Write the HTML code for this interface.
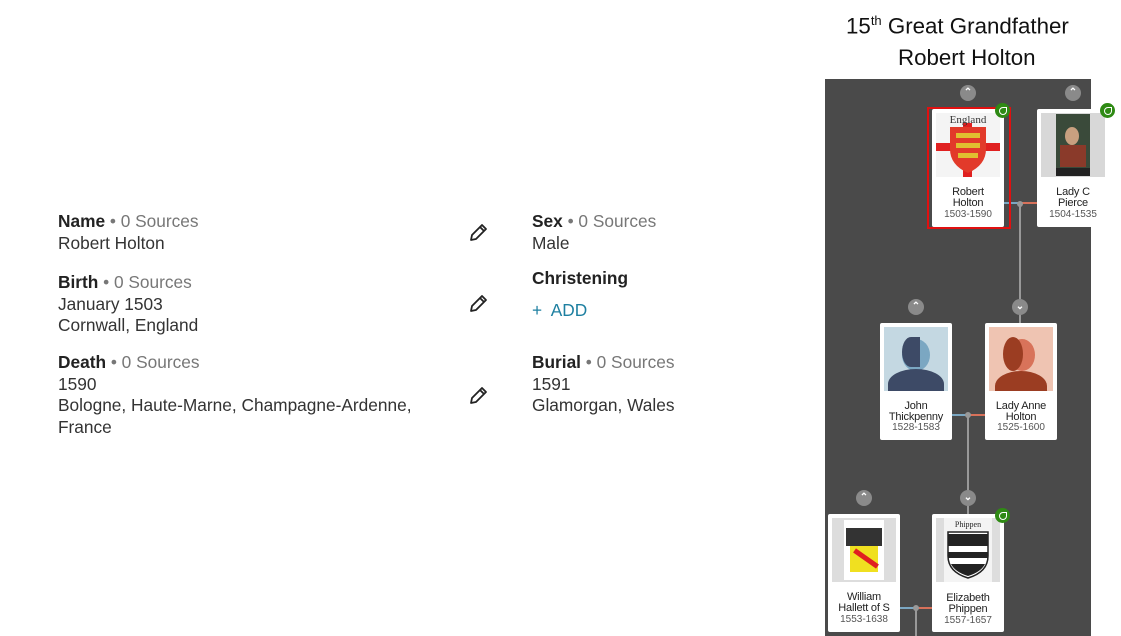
<!DOCTYPE html>
<html><head><meta charset="utf-8"><style>
body{margin:0;width:1121px;height:636px;background:#fff;position:relative;overflow:hidden;font-family:"Liberation Sans",sans-serif}
.a{position:absolute}
.t{font-size:17.3px;color:#333;line-height:21.5px}
.t b{color:#222}
.g{color:#777}
.card{position:absolute;width:72px;background:#fff;border-radius:2px;text-align:center;font-size:10px;line-height:10.5px;color:#333}
.card .img{position:absolute;left:4px;top:4px;width:64px;height:64px;background:#ddd;overflow:hidden}
.card .nm{position:absolute;left:0;right:0;top:78px;color:#222;font-size:11px;letter-spacing:-0.2px}
.card .yr{position:absolute;left:0;right:0;color:#555;font-size:10px}
.chev{position:absolute;width:16px;height:16px;border-radius:50%;background:#8a8a8a;color:#fff;font-size:10px;line-height:16px;text-align:center;font-weight:bold}
.leaf{position:absolute;width:15px;height:15px;border-radius:50%;background:#2f8a14}
.leaf:after{content:"";position:absolute;left:4px;top:4px;width:6px;height:6px;border:1.5px solid #fff;border-radius:50% 0 50% 50%}
.ln{position:absolute;background:#999}
.pen{position:absolute;width:22px;height:22px}
</style></head><body>
<div class="a" style="left:846px;top:13px;font-size:22.3px;color:#111">15<sup style="font-size:13px">th</sup> Great Grandfather</div>
<div class="a" style="left:898px;top:45px;font-size:22.3px;color:#111">Robert Holton</div>

<div class="a t" style="left:58px;top:211px"><b>Name</b> <span class="g">• 0 Sources</span><br>Robert Holton</div>
<div class="a t" style="left:58px;top:272px"><b>Birth</b> <span class="g">• 0 Sources</span><br>January 1503<br>Cornwall, England</div>
<div class="a t" style="left:58px;top:352px"><b>Death</b> <span class="g">• 0 Sources</span><br>1590<br>Bologne, Haute-Marne, Champagne-Ardenne,<br>France</div>
<div class="a t" style="left:532px;top:211px"><b>Sex</b> <span class="g">• 0 Sources</span><br>Male</div>
<div class="a t" style="left:532px;top:268px"><b>Christening</b></div>
<div class="a t" style="left:532px;top:300px;color:#1d7fa0">+&nbsp; ADD</div>
<div class="a t" style="left:532px;top:352px"><b>Burial</b> <span class="g">• 0 Sources</span><br>1591<br>Glamorgan, Wales</div>

<svg class="pen" style="left:467px;top:222px" viewBox="0 0 22 22"><path d="M4 18 L5 13 L15 3 L19 7 L9 17 Z M13 5 L17 9" fill="none" stroke="#222" stroke-width="1.8" stroke-linejoin="round"/></svg>
<svg class="pen" style="left:467px;top:293px" viewBox="0 0 22 22"><path d="M4 18 L5 13 L15 3 L19 7 L9 17 Z M13 5 L17 9" fill="none" stroke="#222" stroke-width="1.8" stroke-linejoin="round"/></svg>
<svg class="pen" style="left:467px;top:385px" viewBox="0 0 22 22"><path d="M4 18 L5 13 L15 3 L19 7 L9 17 Z M13 5 L17 9" fill="none" stroke="#222" stroke-width="1.8" stroke-linejoin="round"/></svg>

<div class="a" style="left:825px;top:79px;width:266px;height:557px;background:#4a4a4a"></div>

<div class="ln" style="left:1004px;top:202px;width:16px;height:2px;background:#7ba7c2"></div>
<div class="ln" style="left:1020px;top:202px;width:17px;height:2px;background:#d8715a"></div>
<div class="ln" style="left:1019px;top:203px;width:2px;height:96px"></div>
<div class="ln" style="left:1017px;top:201px;width:6px;height:6px;border-radius:50%"></div>
<div class="ln" style="left:952px;top:414px;width:16px;height:2px;background:#7ba7c2"></div>
<div class="ln" style="left:968px;top:414px;width:17px;height:2px;background:#d8715a"></div>
<div class="ln" style="left:967px;top:415px;width:2px;height:100px"></div>
<div class="ln" style="left:965px;top:412px;width:6px;height:6px;border-radius:50%"></div>
<div class="ln" style="left:1019px;top:314px;width:2px;height:10px"></div>
<div class="ln" style="left:899px;top:607px;width:17px;height:2px;background:#7ba7c2"></div>
<div class="ln" style="left:916px;top:607px;width:16px;height:2px;background:#d8715a"></div>
<div class="ln" style="left:915px;top:608px;width:2px;height:28px"></div>
<div class="ln" style="left:913px;top:605px;width:6px;height:6px;border-radius:50%"></div>

<div class="chev" style="left:960px;top:85px">⌃</div>
<div class="chev" style="left:1065px;top:85px">⌃</div>
<div class="chev" style="left:908px;top:299px">⌃</div>
<div class="chev" style="left:1012px;top:299px">⌄</div>
<div class="chev" style="left:856px;top:490px">⌃</div>
<div class="chev" style="left:960px;top:490px">⌄</div>

<div class="a" style="left:927px;top:107px;width:80px;height:118px;border:2px solid #e01010"></div>
<div class="card" style="left:932px;top:109px;height:118px">
 <div class="img" style="background:#f4f4f4"><svg width="64" height="64" viewBox="0 0 64 64"><rect x="27" y="10" width="9" height="54" fill="#e02020"/><rect x="0" y="30" width="64" height="8" fill="#e02020"/><path d="M14 14 H50 V36 Q50 52 32 60 Q14 52 14 36 Z" fill="#e23a2a"/><rect x="20" y="20" width="24" height="5" fill="#e0c030"/><rect x="20" y="30" width="24" height="5" fill="#e0c030"/><rect x="22" y="40" width="20" height="5" fill="#e0c030"/><text x="32" y="10" font-size="11" text-anchor="middle" font-family="Liberation Serif,serif" fill="#333">England</text></svg></div>
 <div class="nm">Robert<br>Holton</div><div class="yr" style="top:101px">1503-1590</div></div>
<div class="leaf" style="left:995px;top:103px"></div>

<div class="card" style="left:1037px;top:109px;height:118px">
 <div class="img" style="background:#d8d8d8"><div class="a" style="left:15px;top:1px;width:34px;height:62px;background:#3a4a3a"></div><div class="a" style="left:24px;top:14px;width:14px;height:18px;border-radius:50%;background:#c8a080"></div><div class="a" style="left:19px;top:32px;width:26px;height:22px;background:#8a3a2a"></div><div class="a" style="left:15px;top:55px;width:34px;height:8px;background:#222"></div></div>
 <div class="nm">Lady C<br>Pierce</div><div class="yr" style="top:101px">1504-1535</div></div>
<div class="leaf" style="left:1100px;top:103px"></div>

<div class="card" style="left:880px;top:323px;height:117px">
 <div class="img" style="background:#c4d8e2"><div class="a" style="left:18px;top:12px;width:28px;height:32px;border-radius:50%;background:#7ba7c2"></div><div class="a" style="left:18px;top:10px;width:18px;height:30px;border-radius:50% 0 0 50%;background:#3d4a66"></div><div class="a" style="left:4px;top:42px;width:56px;height:30px;border-radius:50% 50% 0 0;background:#3d4a66"></div></div>
 <div class="nm">John<br>Thickpenny</div><div class="yr" style="top:100px">1528-1583</div></div>

<div class="card" style="left:985px;top:323px;height:117px">
 <div class="img" style="background:#efc4b2"><div class="a" style="left:20px;top:12px;width:26px;height:32px;border-radius:50%;background:#d8735a"></div><div class="a" style="left:14px;top:10px;width:20px;height:34px;border-radius:50%;background:#9b3d22"></div><div class="a" style="left:6px;top:44px;width:52px;height:30px;border-radius:50% 50% 0 0;background:#9b3d22"></div></div>
 <div class="nm">Lady Anne<br>Holton</div><div class="yr" style="top:100px">1525-1600</div></div>

<div class="card" style="left:828px;top:514px;height:118px">
 <div class="img" style="background:#ddd"><div class="a" style="left:12px;top:2px;width:40px;height:60px;background:#fff"></div><div class="a" style="left:14px;top:10px;width:36px;height:18px;background:#333"></div><div class="a" style="left:18px;top:28px;width:28px;height:26px;background:#f0e020"></div><div class="a" style="left:20px;top:38px;width:28px;height:5px;background:#e02020;transform:rotate(35deg)"></div></div>
 <div class="nm">William<br>Hallett of S</div><div class="yr" style="top:101px">1553-1638</div></div>

<div class="card" style="left:932px;top:514px;height:118px">
 <div class="img" style="background:#ddd"><div class="a" style="left:8px;top:0;width:48px;height:64px;background:#f4f4f4"></div><svg class="a" style="left:0;top:0" width="64" height="64" viewBox="0 0 64 64"><path d="M12 14 H52 V38 Q52 54 32 60 Q12 54 12 38 Z" fill="#fff" stroke="#222" stroke-width="1.5"/><rect x="12" y="16" width="40" height="12" fill="#222"/><rect x="12" y="34" width="40" height="6" fill="#222"/><path d="M15 46 H49 Q45 54 32 58 Q19 54 15 46Z" fill="#222"/><text x="32" y="9" font-size="8" text-anchor="middle" font-family="Liberation Serif,serif" fill="#222">Phippen</text></svg></div>
 <div class="nm" style="top:79px">Elizabeth<br>Phippen</div><div class="yr" style="top:102px">1557-1657</div></div>
<div class="leaf" style="left:995px;top:508px"></div>
</body></html>
